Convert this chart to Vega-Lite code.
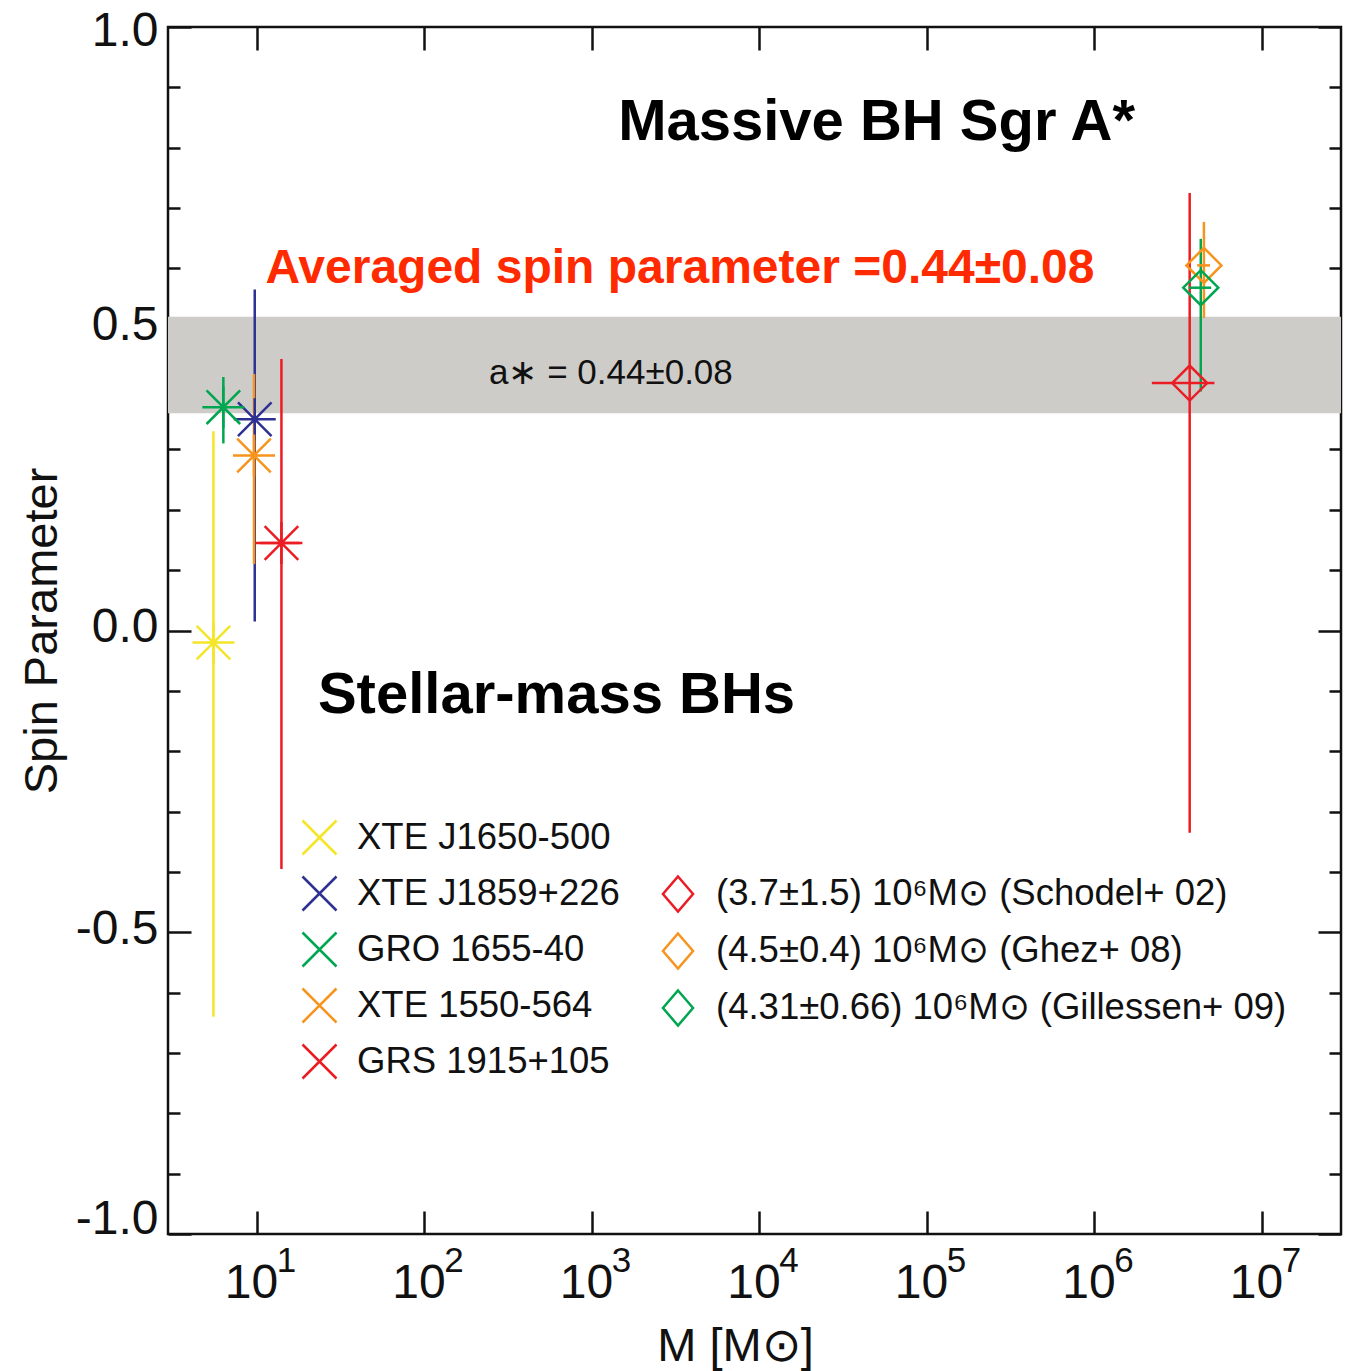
{
  "$schema": "https://vega.github.io/schema/vega-lite/v6.json",
  "width": 1173,
  "height": 1207,
  "autosize": {"type": "none"},
  "padding": {"left": 168, "top": 27, "right": 5, "bottom": 137},
  "background": "white",
  "config": {
    "view": {"stroke": "#111111", "strokeWidth": 2.5},
    "font": "Liberation Sans",
    "axis": {
      "domain": false,
      "grid": false,
      "tickColor": "#111111",
      "tickWidth": 2.5,
      "labelColor": "#111111",
      "titleColor": "#111111",
      "labelFont": "Liberation Sans",
      "titleFont": "Liberation Sans",
      "titleFontWeight": "normal"
    }
  },
  "datasets": {
    "stellar": [
      {"name": "XTE J1650-500", "mass": 5.5, "spin": -0.02, "lo": -0.64, "hi": 0.33},
      {"name": "XTE J1859+226", "mass": 9.7, "spin": 0.35, "lo": 0.015, "hi": 0.565},
      {"name": "GRO 1655-40", "mass": 6.3, "spin": 0.37, "lo": 0.31, "hi": 0.42},
      {"name": "XTE 1550-564", "mass": 9.6, "spin": 0.29, "lo": 0.11, "hi": 0.425},
      {"name": "GRS 1915+105", "mass": 14, "spin": 0.145, "lo": -0.395, "hi": 0.45, "mlo": 9.8, "mhi": 18}
    ],
    "sgr": [
      {"name": "(3.7±1.5) 10⁶M⊙ (Schodel+ 02)", "mass": 3700000, "mlo": 2200000, "mhi": 5200000, "spin": 0.41, "lo": -0.335, "hi": 0.725},
      {"name": "(4.5±0.4) 10⁶M⊙ (Ghez+ 08)", "mass": 4500000, "mlo": 4100000, "mhi": 4900000, "spin": 0.605, "lo": 0.518, "hi": 0.677},
      {"name": "(4.31±0.66) 10⁶M⊙ (Gillessen+ 09)", "mass": 4310000, "mlo": 3650000, "mhi": 4970000, "spin": 0.568, "lo": 0.396, "hi": 0.649}
    ]
  },
  "resolve": {"scale": {"color": "independent"}},
  "layer": [
    {
      "data": {"values": [{"lo": 0.36, "hi": 0.52}]},
      "mark": {"type": "rect", "color": "#cdccc8"},
      "encoding": {
        "y": {
          "field": "lo",
          "type": "quantitative",
          "scale": {"domain": [-1, 1], "nice": false, "zero": false},
          "axis": {
            "orient": "left",
            "values": [-1, -0.9, -0.8, -0.7, -0.6, -0.5, -0.4, -0.3, -0.2, -0.1, 0, 0.1, 0.2, 0.3, 0.4, 0.5, 0.6, 0.7, 0.8, 0.9, 1],
            "tickSize": {"condition": {"test": "abs(datum.value*2 - round(datum.value*2)) < 0.001", "value": -23}, "value": -12},
            "labelExpr": "abs(datum.value*2 - round(datum.value*2)) < 0.001 ? replace(format(datum.value, '.1f'), '−', '-') : ''",
            "labelFontSize": 48,
            "labelPadding": 33,
            "labelBaseline": "middle",
            "labelOffset": {"condition": [{"test": "datum.value < -0.95", "value": -15}, {"test": "datum.value > 0.95", "value": 4}], "value": -3},
            "title": "Spin Parameter",
            "titleFontSize": 47,
            "titlePadding": 9
          }
        },
        "y2": {"field": "hi"}
      }
    },
    {
      "data": {"name": "stellar"},
      "mark": {"type": "rule", "strokeWidth": 2.5},
      "encoding": {
        "x": {
          "field": "mass",
          "type": "quantitative",
          "scale": {"type": "log", "domain": [2.944, 29620000], "nice": false},
          "axis": {
            "orient": "bottom",
            "values": [10, 100, 1000, 10000, 100000, 1000000, 10000000],
            "tickSize": -23,
            "labelPadding": 48,
            "labelFontSize": 48,
            "labelOffset": -6,
            "labelFlush": false,
            "labelExpr": "'10'",
            "title": "M [M⊙]",
            "titleFontSize": 47,
            "titlePadding": 16,
            "titleX": 567
          }
        },
        "y": {"field": "lo", "type": "quantitative", "axis": null},
        "y2": {"field": "hi"},
        "color": {
          "field": "name",
          "type": "nominal",
          "scale": {
            "domain": ["XTE J1650-500", "XTE J1859+226", "GRO 1655-40", "XTE 1550-564", "GRS 1915+105"],
            "range": ["#f4e626", "#2e3192", "#00a650", "#f7941d", "#ec1c24"]
          },
          "legend": null
        }
      }
    },
    {
      "data": {"name": "stellar"},
      "transform": [{"filter": "datum.mlo != null"}],
      "mark": {"type": "rule", "strokeWidth": 2.5},
      "encoding": {
        "x": {"field": "mlo", "type": "quantitative", "axis": null},
        "x2": {"field": "mhi"},
        "y": {"field": "spin", "type": "quantitative", "axis": null},
        "color": {
          "field": "name",
          "type": "nominal",
          "scale": {
            "domain": ["XTE J1650-500", "XTE J1859+226", "GRO 1655-40", "XTE 1550-564", "GRS 1915+105"],
            "range": ["#f4e626", "#2e3192", "#00a650", "#f7941d", "#ec1c24"]
          },
          "legend": null
        }
      }
    },
    {
      "data": {"name": "stellar"},
      "mark": {"type": "point", "shape": "M-1,0L1,0M0,-1L0,1M-0.8,-0.8L0.8,0.8M-0.8,0.8L0.8,-0.8", "size": 1764, "strokeWidth": 2.5, "filled": false, "opacity": 1},
      "encoding": {
        "x": {"field": "mass", "type": "quantitative", "axis": null},
        "y": {"field": "spin", "type": "quantitative", "axis": null},
        "color": {
          "field": "name",
          "type": "nominal",
          "scale": {
            "domain": ["XTE J1650-500", "XTE J1859+226", "GRO 1655-40", "XTE 1550-564", "GRS 1915+105"],
            "range": ["#f4e626", "#2e3192", "#00a650", "#f7941d", "#ec1c24"]
          },
          "legend": {
            "orient": "none",
            "legendX": 133,
            "legendY": 792,
            "direction": "vertical",
            "title": null,
            "padding": 0,
            "symbolType": "M-1,-1L1,1M-1,1L1,-1",
            "symbolSize": 1156,
            "symbolStrokeWidth": 2.5,
            "labelFontSize": 36.5,
            "labelFont": "Liberation Sans",
            "labelColor": "#111111",
            "labelLimit": 2000,
            "labelOffset": 19,
            "rowPadding": 11
          }
        }
      }
    },
    {
      "data": {"name": "sgr"},
      "mark": {"type": "rule", "strokeWidth": 2.5},
      "encoding": {
        "x": {
          "field": "mass",
          "type": "quantitative",
          "axis": {
            "orient": "top",
            "values": [10, 100, 1000, 10000, 100000, 1000000, 10000000],
            "tickSize": -23,
            "labelExpr": "'' + round(log(datum.value)/LN10)",
            "labelFontSize": 35,
            "labelBaseline": "middle",
            "labelPadding": -1210,
            "labelOffset": 29,
            "labelFlush": false,
            "labelOverlap": false,
            "title": null
          }
        },
        "y": {
          "field": "lo",
          "type": "quantitative",
          "axis": {
            "orient": "right",
            "values": [-1, -0.9, -0.8, -0.7, -0.6, -0.5, -0.4, -0.3, -0.2, -0.1, 0, 0.1, 0.2, 0.3, 0.4, 0.5, 0.6, 0.7, 0.8, 0.9, 1],
            "tickSize": {"condition": {"test": "abs(datum.value*2 - round(datum.value*2)) < 0.001", "value": -23}, "value": -12},
            "labels": false,
            "title": null
          }
        },
        "y2": {"field": "hi"},
        "color": {
          "field": "name",
          "type": "nominal",
          "scale": {
            "domain": ["(3.7±1.5) 10⁶M⊙ (Schodel+ 02)", "(4.5±0.4) 10⁶M⊙ (Ghez+ 08)", "(4.31±0.66) 10⁶M⊙ (Gillessen+ 09)"],
            "range": ["#ec1c24", "#f7941d", "#00a650"]
          },
          "legend": null
        }
      }
    },
    {
      "data": {"name": "sgr"},
      "mark": {"type": "rule", "strokeWidth": 2.5},
      "encoding": {
        "x": {"field": "mlo", "type": "quantitative", "axis": null},
        "x2": {"field": "mhi"},
        "y": {"field": "spin", "type": "quantitative", "axis": null},
        "color": {
          "field": "name",
          "type": "nominal",
          "scale": {
            "domain": ["(3.7±1.5) 10⁶M⊙ (Schodel+ 02)", "(4.5±0.4) 10⁶M⊙ (Ghez+ 08)", "(4.31±0.66) 10⁶M⊙ (Gillessen+ 09)"],
            "range": ["#ec1c24", "#f7941d", "#00a650"]
          },
          "legend": null
        }
      }
    },
    {
      "data": {"name": "sgr"},
      "mark": {"type": "point", "shape": "diamond", "size": 1225, "strokeWidth": 2.5, "filled": false, "opacity": 1},
      "encoding": {
        "x": {"field": "mass", "type": "quantitative", "axis": null},
        "y": {"field": "spin", "type": "quantitative", "axis": null},
        "color": {
          "field": "name",
          "type": "nominal",
          "scale": {
            "domain": ["(3.7±1.5) 10⁶M⊙ (Schodel+ 02)", "(4.5±0.4) 10⁶M⊙ (Ghez+ 08)", "(4.31±0.66) 10⁶M⊙ (Gillessen+ 09)"],
            "range": ["#ec1c24", "#f7941d", "#00a650"]
          },
          "legend": {
            "orient": "none",
            "legendX": 491,
            "legendY": 848,
            "direction": "vertical",
            "title": null,
            "padding": 0,
            "symbolType": "M0,-1L0.86,0L0,1L-0.86,0Z",
            "symbolSize": 1225,
            "symbolStrokeWidth": 2.5,
            "labelFontSize": 36.5,
            "labelFont": "Liberation Sans",
            "labelColor": "#111111",
            "labelLimit": 2000,
            "labelOffset": 19,
            "rowPadding": 11
          }
        }
      }
    },
    {
      "data": {
        "values": [
          {"label": "Massive BH Sgr A*", "mass": 50000, "spin": 0.812},
          {"label": "Stellar-mass BHs", "mass": 614, "spin": -0.136}
        ]
      },
      "mark": {"type": "text", "font": "Liberation Sans", "fontWeight": "bold", "fontSize": 58, "color": "#000000", "align": "center", "baseline": "alphabetic"},
      "encoding": {
        "x": {"field": "mass", "type": "quantitative", "axis": null},
        "y": {"field": "spin", "type": "quantitative", "axis": null},
        "text": {"field": "label"}
      }
    },
    {
      "data": {"values": [{"label": "Averaged spin parameter =0.44±0.08", "mass": 3350, "spin": 0.575}]},
      "mark": {"type": "text", "font": "Liberation Sans", "fontWeight": "bold", "fontSize": 48, "color": "#ff2a00", "align": "center", "baseline": "alphabetic"},
      "encoding": {
        "x": {"field": "mass", "type": "quantitative", "axis": null},
        "y": {"field": "spin", "type": "quantitative", "axis": null},
        "text": {"field": "label"}
      }
    },
    {
      "data": {"values": [{"label": "a∗ = 0.44±0.08", "mass": 1297, "spin": 0.409}]},
      "mark": {"type": "text", "font": "Liberation Sans", "fontSize": 35, "color": "#111111", "align": "center", "baseline": "alphabetic"},
      "encoding": {
        "x": {"field": "mass", "type": "quantitative", "axis": null},
        "y": {"field": "spin", "type": "quantitative", "axis": null},
        "text": {"field": "label"}
      }
    }
  ]
}
